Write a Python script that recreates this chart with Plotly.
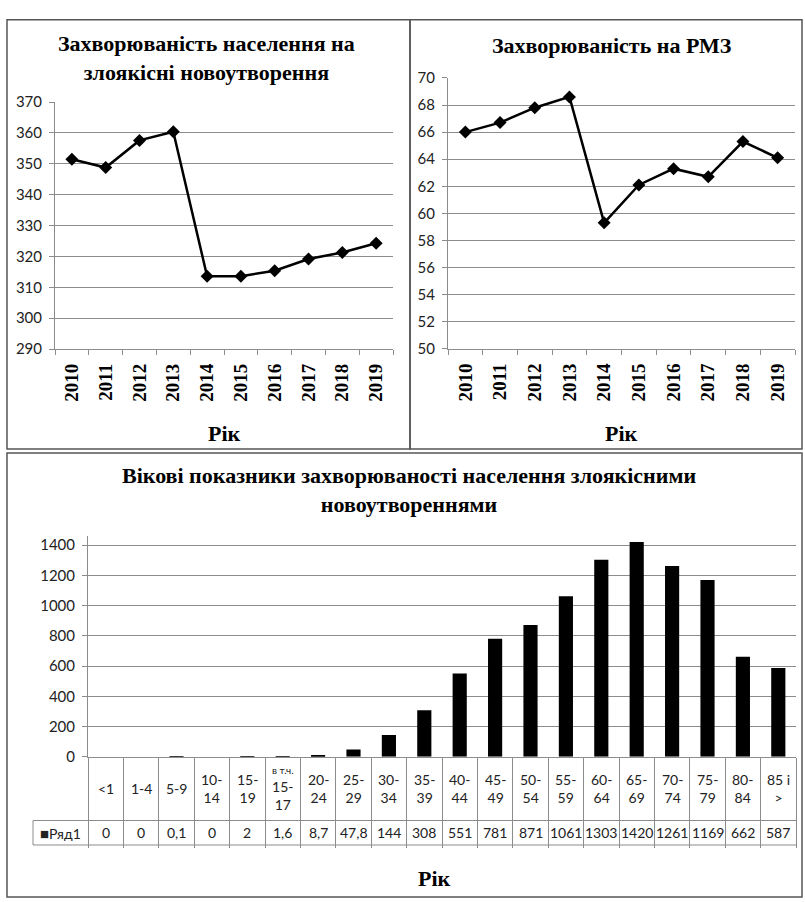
import plotly.graph_objects as go

W, H = 805, 902

# ---------------- data ----------------
years = ['2010', '2011', '2012', '2013', '2014', '2015', '2016', '2017', '2018', '2019']
incidence_all = [351.5, 348.8, 357.6, 360.4, 313.6, 313.6, 315.4, 319.2, 321.3, 324.3]
incidence_rmz = [66.0, 66.7, 67.8, 68.6, 59.3, 62.1, 63.3, 62.7, 65.3, 64.1]

age_groups = ['<1', '1-4', '5-9', '10-14', '15-19', 'в т.ч. 15-17', '20-24', '25-29', '30-34',
              '35-39', '40-44', '45-49', '50-54', '55-59', '60-64', '65-69', '70-74', '75-79',
              '80-84', '85 і >']
age_labels = ['&lt;1', '1-4', '5-9', '10-<br>14', '15-<br>19',
              "<span style='font-size:10px'>в т.ч.</span><br>15-<br>17",
              '20-<br>24', '25-<br>29', '30-<br>34', '35-<br>39', '40-<br>44', '45-<br>49',
              '50-<br>54', '55-<br>59', '60-<br>64', '65-<br>69', '70-<br>74', '75-<br>79',
              '80-<br>84', '85 і<br>&gt;']
age_rates = [0, 0, 0.1, 0, 2, 1.6, 8.7, 47.8, 144, 308, 551, 781, 871, 1061, 1303, 1420,
             1261, 1169, 662, 587]
series_name = 'Ряд1'

title_all = 'Захворюваність населення на<br>злоякісні новоутворення'
title_rmz = 'Захворюваність на РМЗ'
title_age = 'Вікові показники захворюваності населення злоякісними<br>новоутвореннями'
x_title = 'Рік'

# ---------------- helpers ----------------
def px(x):
    return x / W


def py(y):
    return 1 - y / H


def fmt(v):
    return str(int(v)) if float(v).is_integer() else str(v).replace('.', ',')


SERIF = 'Liberation Serif'
SANS = 'Lato'
GRID = '#8c8c8c'
FRAME = '#555555'

fig = go.Figure()

fig.add_trace(go.Scatter(x=years, y=incidence_all, mode='lines+markers',
                         line=dict(color='black', width=2.5),
                         marker=dict(symbol='diamond', size=10, color='black'),
                         xaxis='x', yaxis='y', showlegend=False))
fig.add_trace(go.Scatter(x=years, y=incidence_rmz, mode='lines+markers',
                         line=dict(color='black', width=2.5),
                         marker=dict(symbol='diamond', size=10, color='black'),
                         xaxis='x2', yaxis='y2', showlegend=False))
fig.add_trace(go.Bar(x=age_groups, y=age_rates, marker=dict(color='black', line=dict(width=0)),
                     name=series_name, xaxis='x3', yaxis='y3', showlegend=False))

xcommon = dict(type='category', showgrid=False, showline=True, linecolor=GRID, linewidth=1,
               ticks='outside', tickson='boundaries', ticklen=5, tickcolor=GRID,
               tickangle=-90, ticklabelstandoff=6,
               tickfont=dict(family=SERIF, size=19, color='black', weight='bold'))
ycommon = dict(showgrid=True, gridcolor=GRID, gridwidth=1, showline=True, linecolor=GRID,
               ticks='outside', ticklen=5, tickcolor=GRID, zeroline=False,
               ticklabelstandoff=4, tickfont=dict(family=SANS, size=15, color='#222'))

fig.update_layout(
    width=W, height=H, margin=dict(l=0, r=0, t=0, b=0),
    paper_bgcolor='white', plot_bgcolor='white', bargap=0.6,
    xaxis=dict(xcommon, domain=[px(55), px(393)], anchor='y', range=[-0.5, 9.5]),
    yaxis=dict(ycommon, domain=[py(346), py(94)], anchor='x', range=[290, 370], dtick=10),
    xaxis2=dict(xcommon, domain=[px(448), px(795)], anchor='y2', range=[-0.5, 9.5]),
    yaxis2=dict(ycommon, domain=[py(345.7), py(69.3)], anchor='x2', range=[50, 70], dtick=2),
    xaxis3=dict(type='category', domain=[px(88), px(796)], anchor='y3', range=[-0.5, 19.5],
                showgrid=False, showline=True, linecolor=GRID, linewidth=1,
                ticks='outside', tickson='boundaries', ticklen=90, tickcolor=GRID,
                showticklabels=False),
    yaxis3=dict(ycommon, domain=[py(762), py(536.7)], anchor='x3', range=[0, 1460],
                tickvals=[0, 200, 400, 600, 800, 1000, 1200, 1400]),
)

annotations = []
tfont = dict(family=SERIF, size=22, color='black', weight='bold')
annotations.append(dict(text=title_all, x=px(207), y=py(49), xref='paper', yref='paper',
                        showarrow=False, xanchor='center', yanchor='middle', font=tfont))
annotations.append(dict(text=title_rmz, x=px(612), y=py(36), xref='paper', yref='paper',
                        showarrow=False, xanchor='center', yanchor='middle', font=tfont))
annotations.append(dict(text=title_age, x=px(409), y=py(490), xref='paper', yref='paper',
                        showarrow=False, xanchor='center', yanchor='middle', font=tfont))
for xc, yc in [(224, 432), (621, 432), (434, 886)]:
    annotations.append(dict(text=x_title, x=px(xc), y=py(yc), xref='paper', yref='paper',
                            showarrow=False, xanchor='center', yanchor='middle',
                            font=dict(family=SERIF, size=22, color='black', weight='bold')))
# data table
for cat, lab, val in zip(age_groups, age_labels, age_rates):
    annotations.append(dict(text=lab, x=cat, xref='x3', y=py(794.5), yref='paper',
                            showarrow=False, xanchor='center', yanchor='middle',
                            font=dict(family=SANS, size=14, color='#222')))
    annotations.append(dict(text=fmt(val), x=cat, xref='x3', y=py(839.5), yref='paper',
                            showarrow=False, xanchor='center', yanchor='middle',
                            font=dict(family=SANS, size=14, color='#222')))
annotations.append(dict(text="<span style='font-size:15px'>■</span>" + series_name,
                        x=px(60), y=py(839.5), xref='paper', yref='paper', showarrow=False,
                        xanchor='center', yanchor='middle',
                        font=dict(family=SANS, size=14, color='#222')))
fig.update_layout(annotations=annotations)

shapes = []
for x0, y0, x1, y1 in [(7, 10, 410, 448), (410, 10, 802, 448), (7, 452, 802, 905)]:
    shapes.append(dict(type='rect', xref='paper', yref='paper', x0=px(x0), x1=px(x1),
                       y0=py(y0), y1=py(y1), line=dict(color=FRAME, width=1.5)))
for yy in (827, 852):
    shapes.append(dict(type='line', xref='paper', yref='paper', x0=px(33), x1=px(796),
                       y0=py(yy), y1=py(yy), line=dict(color=GRID, width=1)))
shapes.append(dict(type='line', xref='paper', yref='paper', x0=px(33), x1=px(33),
                   y0=py(827), y1=py(852), line=dict(color=GRID, width=1)))
fig.update_layout(shapes=shapes)

fig.write_html('out.html', config={'displayModeBar': False},
               post_script="document.body.style.margin='0';"
                           "document.body.style.overflow='hidden';")
